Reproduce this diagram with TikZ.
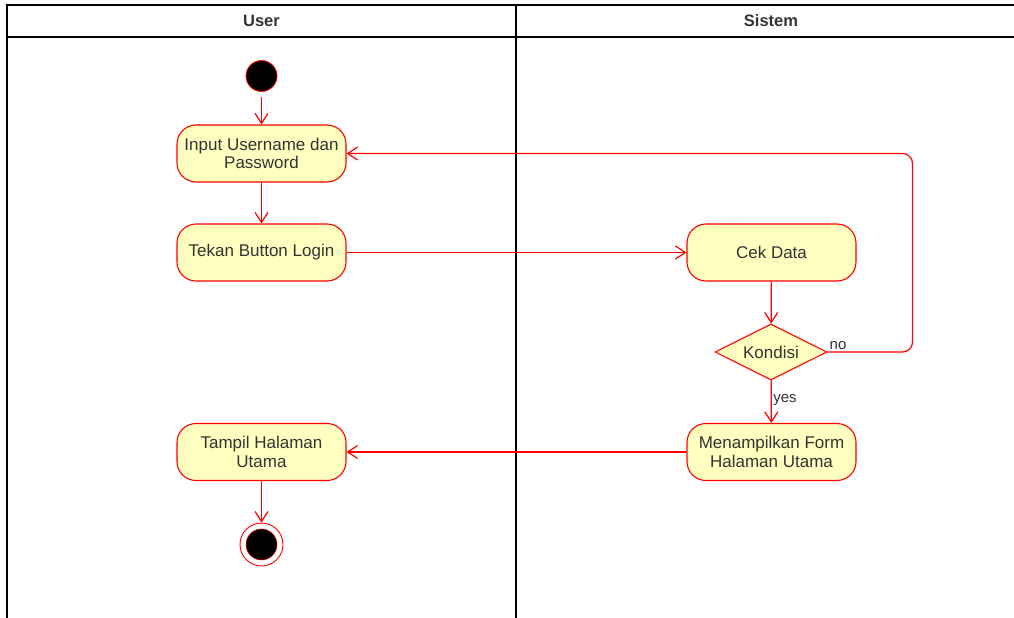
\documentclass[tikz,border=0pt]{standalone}
\usepackage{fontspec}
\setmainfont{Liberation Sans}
\usetikzlibrary{arrows.meta,positioning,shapes.geometric}
\definecolor{actred}{HTML}{FF0000}
\definecolor{actfill}{HTML}{FFFFC0}
\definecolor{acttext}{HTML}{333333}

\tikzset{
    activity/.style={draw=actred, fill=actfill, line width=1.1pt, rounded corners=19pt,
        minimum width=169pt, minimum height=57pt, align=center, text=acttext,
        font=\fontsize{17}{18.7}\selectfont},
    decision/.style={diamond, aspect=2, draw=actred, fill=actfill, line width=1.1pt,
        minimum width=112pt, minimum height=56pt, inner sep=0pt, text=acttext,
        font=\fontsize{17}{18.7}\selectfont},
    startstate/.style={circle, draw=actred, fill=black, line width=0.8pt,
        minimum size=31pt, inner sep=0pt},
    endstate/.style={circle, draw=actred, fill=white, line width=0.9pt,
        minimum size=43pt, inner sep=0pt},
    endcore/.style={circle, draw=actred, fill=black, line width=0.5pt,
        minimum size=31pt, inner sep=0pt},
    flow/.style={draw=actred, line width=1.2pt, -{Straight Barb[length=10pt,width=13pt]}},
    lane/.style={draw=black, line width=1.3pt},
    lanetitle/.style={text=acttext, font=\bfseries\fontsize{16.5}{18.5}\selectfont},
    edgelabel/.style={text=acttext, inner sep=1.5pt, font=\fontsize{15}{17}\selectfont},
}

\begin{document}
\begin{tikzpicture}[x=1pt,y=-1pt]
    \useasboundingbox (0,0) rectangle (1014,618);
    \clip (0,0) rectangle (1014,618);

    % Draw swimlanes
    \draw[lane] (7,640) -- (7,5) -- (1026,5) -- (1026,640);
    \draw[lane] (7,37) -- (1026,37);
    \draw[lane] (516,5) -- (516,640);
    \node[lanetitle] (user) at (261.5,21) {User};
    \node[lanetitle] (sistem) at (771,21) {Sistem};

    % Draw activities
    \node[startstate] (start) at (261.5,76) {};
    \node[activity] (input) at (261.5,153.5) {Input Username dan\\Password};
    \node[activity] (tekan) at (261.5,252.5) {Tekan Button Login};
    \node[activity] (cek) at (771.5,252.5) {Cek Data};
    \node[decision] (kondisi) at (771,352) {Kondisi};
    \node[activity] (tampilform) at (771.5,452) {Menampilkan Form\\Halaman Utama};
    \node[activity] (tampil) at (261.5,452) {Tampil Halaman\\Utama};
    \node[endstate] (end) at (261.5,544.5) {};
    \node[endcore] (endfill) at (end) {};

    % Draw flows
    \draw[flow, shorten <=5pt] (start) -- (input);
    \draw[flow] (input) -- (tekan);
    \draw[flow] (tekan) -- (cek);
    \draw[flow] (cek) -- (kondisi);
    \draw[flow, rounded corners=10pt] (kondisi.east)
        node[edgelabel, anchor=south west] {no} -- ++(85,0) |- (input.east);
    \draw[flow] (kondisi) -- node[edgelabel, pos=0.45, anchor=west] {yes} (tampilform);
    \draw[flow] (tampilform) -- (tampil);
    \draw[flow] (tampil) -- (end);
\end{tikzpicture}
\end{document}
